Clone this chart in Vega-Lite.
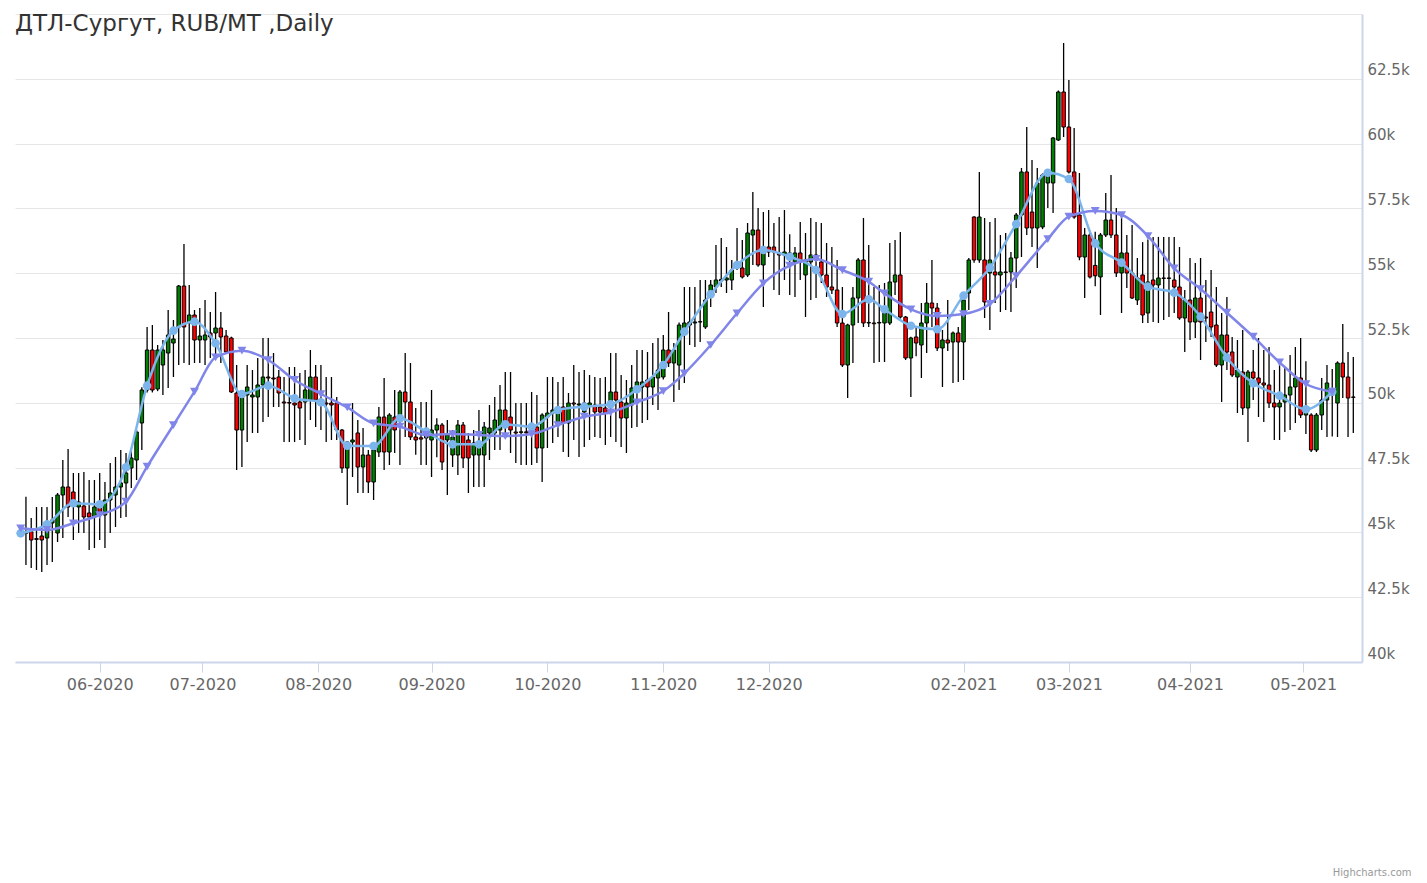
{
  "$schema": "https://vega.github.io/schema/vega-lite/v6.json",
  "width": 1347,
  "height": 648,
  "autosize": {"type": "none"},
  "padding": {"left": 15, "top": 14, "right": 65, "bottom": 221},
  "background": "#ffffff",
  "config": {"view": {"stroke": null}, "font": "DejaVu Sans"},
  "title": {"text": "ДТЛ-Сургут, RUB/MT ,Daily", "anchor": "start", "frame": "group", "orient": "top", "baseline": "alphabetic", "offset": 0, "dy": 40, "fontSize": 23, "fontWeight": "normal", "color": "#333333", "font": "DejaVu Sans"},
  "datasets": {
    "candles": [
      {"s":1,"o":44965,"h":46377,"l":43742,"c":45027},{"s":2,"o":45027,"h":45556,"l":43627,"c":44707},{"s":3,"o":44760,"h":45980,"l":43549,"c":44730},{"s":4,"o":44860,"h":45980,"l":43472,"c":44707},{"s":5,"o":44784,"h":45980,"l":43742,"c":45363},{"s":6,"o":45363,"h":46366,"l":43858,"c":45479},{"s":7,"o":44977,"h":46520,"l":44630,"c":46443},{"s":8,"o":46443,"h":47793,"l":44784,"c":46752},{"s":9,"o":46752,"h":48218,"l":45594,"c":45980},{"s":10,"o":46559,"h":47292,"l":44707,"c":46173},
      {"s":11,"o":45980,"h":47292,"l":44977,"c":46173},{"s":12,"o":46019,"h":47330,"l":44977,"c":45594},{"s":13,"o":45749,"h":47022,"l":44321,"c":45594},{"s":14,"o":45594,"h":47022,"l":44398,"c":45980},{"s":15,"o":45980,"h":47292,"l":44707,"c":45787},{"s":16,"o":45671,"h":46944,"l":44398,"c":46250},{"s":17,"o":46250,"h":47677,"l":44977,"c":46520},{"s":18,"o":46443,"h":47909,"l":45208,"c":46752},{"s":19,"o":46752,"h":48179,"l":45556,"c":46906},{"s":20,"o":46906,"h":48063,"l":45594,"c":47292},
      {"s":21,"o":47485,"h":48179,"l":46713,"c":47870},{"s":22,"o":47793,"h":48950,"l":47022,"c":48873},{"s":23,"o":49221,"h":50600,"l":48179,"c":50494},{"s":24,"o":50494,"h":52924,"l":50400,"c":52037},{"s":25,"o":52037,"h":53001,"l":50400,"c":50494},{"s":26,"o":50532,"h":52230,"l":50450,"c":52037},{"s":27,"o":51458,"h":52423,"l":50301,"c":52037},{"s":28,"o":51921,"h":53580,"l":50571,"c":52616},{"s":29,"o":52307,"h":53194,"l":50995,"c":52461},{"s":30,"o":52924,"h":54545,"l":51458,"c":54506},
      {"s":31,"o":54506,"h":56127,"l":51535,"c":52924},{"s":32,"o":53079,"h":54545,"l":51458,"c":53387},{"s":33,"o":53387,"h":53580,"l":51535,"c":52423},{"s":34,"o":52423,"h":53657,"l":51535,"c":52577},{"s":35,"o":52423,"h":53966,"l":51458,"c":52616},{"s":36,"o":52693,"h":53503,"l":51728,"c":52539},{"s":37,"o":52693,"h":54275,"l":51767,"c":52886},{"s":38,"o":52886,"h":53503,"l":51535,"c":52539},{"s":39,"o":52577,"h":52809,"l":51900,"c":51960},{"s":40,"o":52500,"h":52550,"l":50380,"c":50417},
      {"s":41,"o":50378,"h":51458,"l":47407,"c":48950},{"s":42,"o":48950,"h":50400,"l":47523,"c":50378},{"s":43,"o":50301,"h":51458,"l":48488,"c":50610},{"s":44,"o":50224,"h":51265,"l":48835,"c":50301},{"s":45,"o":50224,"h":51728,"l":48835,"c":50687},{"s":46,"o":50687,"h":52500,"l":49259,"c":50995},{"s":47,"o":50995,"h":52500,"l":49452,"c":50957},{"s":48,"o":50957,"h":51921,"l":49838,"c":50918},{"s":49,"o":50995,"h":51265,"l":49838,"c":50378},{"s":50,"o":50031,"h":50995,"l":48488,"c":49992},
      {"s":51,"o":50010,"h":51381,"l":48488,"c":49990},{"s":52,"o":49992,"h":51381,"l":48488,"c":49915},{"s":53,"o":50031,"h":51150,"l":48565,"c":49799},{"s":54,"o":50031,"h":51265,"l":48372,"c":50494},{"s":55,"o":50108,"h":52037,"l":49336,"c":50995},{"s":56,"o":50995,"h":51458,"l":49066,"c":50108},{"s":57,"o":50031,"h":51458,"l":48950,"c":49992},{"s":58,"o":49992,"h":50995,"l":48488,"c":49954},{"s":59,"o":49992,"h":50995,"l":48565,"c":49915},{"s":60,"o":49992,"h":50224,"l":48565,"c":48950},
      {"s":61,"o":48950,"h":48990,"l":47292,"c":47485},{"s":62,"o":47485,"h":48530,"l":46057,"c":48488},{"s":63,"o":48488,"h":49992,"l":47137,"c":48565},{"s":64,"o":48835,"h":49336,"l":46520,"c":47523},{"s":65,"o":47523,"h":49028,"l":46520,"c":47986},{"s":66,"o":47986,"h":48179,"l":46520,"c":46944},{"s":67,"o":46944,"h":48220,"l":46250,"c":48179},{"s":68,"o":48102,"h":49838,"l":47909,"c":49452},{"s":69,"o":49452,"h":50957,"l":47407,"c":48102},{"s":70,"o":48102,"h":49600,"l":47600,"c":49529},
      {"s":71,"o":49452,"h":50494,"l":48063,"c":48950},{"s":72,"o":49452,"h":50494,"l":47600,"c":50417},{"s":73,"o":50417,"h":51921,"l":48680,"c":50031},{"s":74,"o":50031,"h":51535,"l":48565,"c":48680},{"s":75,"o":48680,"h":49800,"l":48000,"c":48565},{"s":76,"o":48650,"h":50031,"l":47600,"c":48600},{"s":77,"o":48642,"h":50031,"l":47600,"c":48950},{"s":78,"o":48565,"h":50494,"l":47137,"c":48950},{"s":79,"o":48950,"h":49400,"l":47900,"c":49143},{"s":80,"o":49143,"h":49221,"l":47407,"c":47716},
      {"s":81,"o":48565,"h":49336,"l":46443,"c":48758},{"s":82,"o":47986,"h":48950,"l":47523,"c":48680},{"s":83,"o":47986,"h":49336,"l":47215,"c":49143},{"s":84,"o":49143,"h":49260,"l":47485,"c":47870},{"s":85,"o":48565,"h":48835,"l":46520,"c":47870},{"s":86,"o":47986,"h":48950,"l":46752,"c":48449},{"s":87,"o":47986,"h":49722,"l":46752,"c":48449},{"s":88,"o":47986,"h":49259,"l":46752,"c":49066},{"s":89,"o":48835,"h":49915,"l":47793,"c":49028},{"s":90,"o":48835,"h":50224,"l":48179,"c":49336},
      {"s":91,"o":48950,"h":50687,"l":48179,"c":49722},{"s":92,"o":49722,"h":51188,"l":48758,"c":49259},{"s":93,"o":49452,"h":51188,"l":48063,"c":48950},{"s":94,"o":48873,"h":49992,"l":47677,"c":48835},{"s":95,"o":48860,"h":49992,"l":47600,"c":48880},{"s":96,"o":48880,"h":49992,"l":47600,"c":48840},{"s":97,"o":48950,"h":50417,"l":47600,"c":48990},{"s":98,"o":49066,"h":50301,"l":47677,"c":48256},{"s":99,"o":48256,"h":49600,"l":46944,"c":49529},{"s":100,"o":49452,"h":50995,"l":48256,"c":49606},
      {"s":101,"o":49606,"h":50995,"l":48449,"c":49722},{"s":102,"o":49259,"h":50803,"l":48680,"c":49838},{"s":103,"o":49838,"h":50995,"l":48102,"c":49221},{"s":104,"o":49221,"h":50378,"l":47909,"c":49992},{"s":105,"o":49992,"h":51458,"l":48565,"c":49954},{"s":106,"o":49915,"h":51188,"l":47909,"c":49954},{"s":107,"o":49645,"h":51265,"l":48295,"c":49992},{"s":108,"o":49877,"h":51073,"l":48565,"c":49992},{"s":109,"o":49915,"h":50995,"l":48680,"c":49645},{"s":110,"o":49838,"h":50957,"l":48642,"c":49645},
      {"s":111,"o":49799,"h":50995,"l":48372,"c":49606},{"s":112,"o":50031,"h":51921,"l":48680,"c":50417},{"s":113,"o":50417,"h":51921,"l":48488,"c":50108},{"s":114,"o":50031,"h":51073,"l":48295,"c":49413},{"s":115,"o":49413,"h":50880,"l":48063,"c":49992},{"s":116,"o":49915,"h":51458,"l":49028,"c":50571},{"s":117,"o":50494,"h":52037,"l":49066,"c":50803},{"s":118,"o":50610,"h":52037,"l":49221,"c":50803},{"s":119,"o":50880,"h":51960,"l":49336,"c":50610},{"s":120,"o":50610,"h":52307,"l":49915,"c":50995},
      {"s":121,"o":50957,"h":52500,"l":49722,"c":51265},{"s":122,"o":50995,"h":52616,"l":50900,"c":52037},{"s":123,"o":52037,"h":53503,"l":51381,"c":51535},{"s":124,"o":51535,"h":52307,"l":50031,"c":52037},{"s":125,"o":51458,"h":53100,"l":50494,"c":53001},{"s":126,"o":52693,"h":54468,"l":50764,"c":53079},{"s":127,"o":53001,"h":54468,"l":52230,"c":53118},{"s":128,"o":53079,"h":54468,"l":52153,"c":53118},{"s":129,"o":53118,"h":54738,"l":52346,"c":53130},{"s":130,"o":52924,"h":54738,"l":52850,"c":53966},
      {"s":131,"o":54082,"h":54738,"l":53696,"c":54545},{"s":132,"o":54468,"h":56088,"l":54236,"c":54738},{"s":133,"o":54700,"h":56358,"l":54468,"c":54760},{"s":134,"o":54738,"h":56011,"l":54236,"c":54815},{"s":135,"o":54738,"h":55510,"l":54352,"c":55124},{"s":136,"o":55201,"h":56744,"l":55124,"c":55394},{"s":137,"o":55201,"h":56281,"l":54800,"c":54854},{"s":138,"o":54931,"h":56937,"l":54854,"c":56551},{"s":139,"o":56474,"h":58133,"l":55317,"c":56667},{"s":140,"o":56667,"h":57515,"l":55250,"c":55317},
      {"s":141,"o":55317,"h":57361,"l":53696,"c":56011},{"s":142,"o":56011,"h":57438,"l":55625,"c":55818},{"s":143,"o":56011,"h":56937,"l":54352,"c":55818},{"s":144,"o":55780,"h":57168,"l":54159,"c":55702},{"s":145,"o":55702,"h":57438,"l":54738,"c":55818},{"s":146,"o":55780,"h":56500,"l":54159,"c":55587},{"s":147,"o":55432,"h":56011,"l":54082,"c":55780},{"s":148,"o":55780,"h":56975,"l":54738,"c":55432},{"s":149,"o":54931,"h":56551,"l":53310,"c":55510},{"s":150,"o":55432,"h":57129,"l":53966,"c":55702},
      {"s":151,"o":55702,"h":56975,"l":54043,"c":55510},{"s":152,"o":55432,"h":56937,"l":54622,"c":54931},{"s":153,"o":54931,"h":56165,"l":54082,"c":54468},{"s":154,"o":54468,"h":56011,"l":54200,"c":54352},{"s":155,"o":54352,"h":55510,"l":52924,"c":53079},{"s":156,"o":53079,"h":54468,"l":51381,"c":51458},{"s":157,"o":51458,"h":53050,"l":50185,"c":53001},{"s":158,"o":53001,"h":54468,"l":51535,"c":54043},{"s":159,"o":54043,"h":55587,"l":53079,"c":55510},{"s":160,"o":55510,"h":57129,"l":52924,"c":53079},
      {"s":161,"o":53079,"h":56088,"l":52924,"c":53100},{"s":162,"o":53079,"h":54468,"l":51535,"c":53050},{"s":163,"o":53079,"h":54545,"l":51574,"c":53100},{"s":164,"o":53079,"h":54622,"l":51574,"c":53464},{"s":165,"o":53079,"h":56165,"l":53000,"c":54661},{"s":166,"o":54661,"h":56281,"l":54159,"c":54931},{"s":167,"o":54931,"h":56590,"l":53250,"c":53310},{"s":168,"o":53310,"h":53350,"l":51650,"c":51728},{"s":169,"o":51728,"h":52550,"l":50224,"c":52500},{"s":170,"o":52539,"h":52924,"l":51800,"c":52307},
      {"s":171,"o":52230,"h":53850,"l":50957,"c":53079},{"s":172,"o":53079,"h":54622,"l":51921,"c":53850},{"s":173,"o":53850,"h":55510,"l":52924,"c":53657},{"s":174,"o":53657,"h":53850,"l":52000,"c":52114},{"s":175,"o":52114,"h":52809,"l":50610,"c":52423},{"s":176,"o":52423,"h":53966,"l":52000,"c":52307},{"s":177,"o":52346,"h":52750,"l":50764,"c":52693},{"s":178,"o":52693,"h":52924,"l":50800,"c":52346},{"s":179,"o":52346,"h":54159,"l":50880,"c":53966},{"s":180,"o":54236,"h":55587,"l":53580,"c":55510},
      {"s":181,"o":57168,"h":57200,"l":55400,"c":55510},{"s":182,"o":55510,"h":58905,"l":55400,"c":57168},{"s":183,"o":55510,"h":57129,"l":53271,"c":53889},{"s":184,"o":55008,"h":56975,"l":52809,"c":55510},{"s":185,"o":55047,"h":57129,"l":53850,"c":54931},{"s":186,"o":54931,"h":56474,"l":53503,"c":55047},{"s":187,"o":55047,"h":56551,"l":53580,"c":55030},{"s":188,"o":55047,"h":55818,"l":53503,"c":55587},{"s":189,"o":55587,"h":57322,"l":54429,"c":57245},{"s":190,"o":57245,"h":59059,"l":55625,"c":58905},
      {"s":191,"o":58905,"h":60640,"l":56474,"c":56744},{"s":192,"o":57361,"h":59367,"l":56011,"c":56744},{"s":193,"o":56744,"h":59059,"l":55201,"c":58480},{"s":194,"o":56783,"h":58850,"l":56700,"c":58789},{"s":195,"o":58480,"h":58850,"l":57515,"c":58789},{"s":196,"o":58480,"h":60250,"l":57322,"c":60216},{"s":197,"o":60139,"h":62050,"l":60100,"c":61991},{"s":198,"o":61991,"h":63881,"l":60255,"c":60640},{"s":199,"o":60640,"h":62454,"l":58850,"c":58905},{"s":200,"o":58905,"h":60602,"l":57100,"c":57168},
      {"s":201,"o":57245,"h":58866,"l":55500,"c":55625},{"s":202,"o":55625,"h":56744,"l":54043,"c":56474},{"s":203,"o":56474,"h":56550,"l":54800,"c":54854},{"s":204,"o":55300,"h":56600,"l":54500,"c":54900},{"s":205,"o":54854,"h":56550,"l":53387,"c":56474},{"s":206,"o":56474,"h":58094,"l":56400,"c":57052},{"s":207,"o":57052,"h":58789,"l":56358,"c":56474},{"s":208,"o":56474,"h":57515,"l":54854,"c":55008},{"s":209,"o":55008,"h":57361,"l":53464,"c":55780},{"s":210,"o":55780,"h":56474,"l":54429,"c":55008},
      {"s":211,"o":55008,"h":56860,"l":54000,"c":54043},{"s":212,"o":53966,"h":55587,"l":53773,"c":54815},{"s":213,"o":54931,"h":56200,"l":53079,"c":53387},{"s":214,"o":53464,"h":56300,"l":53079,"c":54661},{"s":215,"o":54738,"h":56400,"l":53117,"c":54545},{"s":216,"o":54545,"h":56400,"l":53079,"c":54815},{"s":217,"o":54815,"h":56397,"l":53194,"c":54800},{"s":218,"o":54800,"h":56397,"l":53310,"c":54815},{"s":219,"o":54738,"h":56397,"l":53464,"c":54468},{"s":220,"o":54468,"h":56011,"l":53200,"c":53271},
      {"s":221,"o":53271,"h":54352,"l":51960,"c":53966},{"s":222,"o":53966,"h":55587,"l":52423,"c":53117},{"s":223,"o":53117,"h":55394,"l":52500,"c":54043},{"s":224,"o":54043,"h":55587,"l":51651,"c":53117},{"s":225,"o":53310,"h":54738,"l":52346,"c":53271},{"s":226,"o":53503,"h":55124,"l":52539,"c":52924},{"s":227,"o":53001,"h":54468,"l":51381,"c":51458},{"s":228,"o":51458,"h":53464,"l":50031,"c":52616},{"s":229,"o":52616,"h":54082,"l":51265,"c":51960},{"s":230,"o":51960,"h":52539,"l":50995,"c":51073},
      {"s":231,"o":50995,"h":52423,"l":49606,"c":51265},{"s":232,"o":51188,"h":52809,"l":49529,"c":49799},{"s":233,"o":49799,"h":51265,"l":48488,"c":51188},{"s":234,"o":51188,"h":52037,"l":50108,"c":50957},{"s":235,"o":50957,"h":52500,"l":49452,"c":50764},{"s":236,"o":50764,"h":52037,"l":49259,"c":50687},{"s":237,"o":50687,"h":52153,"l":49800,"c":49992},{"s":238,"o":49992,"h":51265,"l":48565,"c":49838},{"s":239,"o":49838,"h":51651,"l":48565,"c":49992},{"s":240,"o":50031,"h":51381,"l":48873,"c":50301},
      {"s":241,"o":50301,"h":51844,"l":48950,"c":50610},{"s":242,"o":50610,"h":52153,"l":49221,"c":50957},{"s":243,"o":50957,"h":52500,"l":49413,"c":49529},{"s":244,"o":49529,"h":51600,"l":48800,"c":49606},{"s":245,"o":49529,"h":49600,"l":48100,"c":48179},{"s":246,"o":48179,"h":49606,"l":48100,"c":49529},{"s":247,"o":49529,"h":50957,"l":48950,"c":50108},{"s":248,"o":50108,"h":51458,"l":48680,"c":50764},{"s":249,"o":50400,"h":51300,"l":48700,"c":50300},{"s":250,"o":49992,"h":51600,"l":48680,"c":51535},
      {"s":251,"o":51535,"h":53040,"l":50185,"c":50995},{"s":252,"o":50995,"h":51960,"l":48680,"c":50185},{"s":253,"o":50224,"h":51767,"l":48835,"c":50210}
    ],
    "fast": [
      {"s":0,"v":44965},{"s":5,"v":45312},{"s":10,"v":46123},{"s":15,"v":46084},{"s":20,"v":47512},{"s":24,"v":50660},{"s":29,"v":52782},{"s":33,"v":53129},{"s":37,"v":52296},{"s":42,"v":50339},{"s":47,"v":50660},{"s":52,"v":50174},{"s":57,"v":50019},{"s":62,"v":48345},{"s":67,"v":48333},{"s":72,"v":49402},{"s":77,"v":48885},{"s":82,"v":48399},{"s":87,"v":48399},{"s":92,"v":49170},{"s":97,"v":49078},{"s":102,"v":49722},{"s":107,"v":49850},{"s":112,"v":49942},{"s":117,"v":50521},{"s":122,"v":51458},{"s":126,"v":52743},{"s":131,"v":54186},{"s":136,"v":55316},{"s":141,"v":55895},{"s":146,"v":55636},{"s":151,"v":55123},{"s":156,"v":53426},{"s":161,"v":53993},{"s":164,"v":53607},{"s":169,"v":52974},{"s":174,"v":52836},{"s":179,"v":54132},{"s":184,"v":55212},{"s":189,"v":56898},{"s":195,"v":58877},{"s":199,"v":58634},{"s":204,"v":56153},{"s":209,"v":55405},{"s":214,"v":54479},{"s":219,"v":54248},{"s":224,"v":53322},{"s":229,"v":51740},{"s":234,"v":50752},{"s":239,"v":50274},{"s":244,"v":49749},{"s":249,"v":50428}
    ],
    "slow": [
      {"s":0,"v":45158},{"s":5,"v":45093},{"s":10,"v":45351},{"s":15,"v":45671},{"s":20,"v":46184},{"s":24,"v":47535},{"s":29,"v":49143},{"s":33,"v":50428},{"s":37,"v":51755},{"s":42,"v":52010},{"s":47,"v":51651},{"s":52,"v":50880},{"s":57,"v":50339},{"s":62,"v":49826},{"s":67,"v":49209},{"s":72,"v":49078},{"s":77,"v":48758},{"s":82,"v":48796},{"s":87,"v":48758},{"s":92,"v":48719},{"s":97,"v":48796},{"s":102,"v":49143},{"s":107,"v":49464},{"s":112,"v":49633},{"s":117,"v":50019},{"s":122,"v":50455},{"s":126,"v":51138},{"s":131,"v":52230},{"s":136,"v":53453},{"s":141,"v":54610},{"s":146,"v":55289},{"s":151,"v":55548},{"s":156,"v":55123},{"s":161,"v":54672},{"s":164,"v":54224},{"s":169,"v":53607},{"s":174,"v":53349},{"s":179,"v":53426},{"s":184,"v":53812},{"s":189,"v":54892},{"s":195,"v":56319},{"s":199,"v":57180},{"s":204,"v":57400},{"s":209,"v":57245},{"s":214,"v":56435},{"s":219,"v":55189},{"s":224,"v":54390},{"s":229,"v":53476},{"s":234,"v":52550},{"s":239,"v":51562},{"s":244,"v":50725},{"s":249,"v":50428}
    ]
  },
  "encoding": {
    "x": {"field": "s", "type": "quantitative",
      "scale": {"domain": [-0.13, 253.7], "nice": false, "zero": false},
      "axis": {"values": [15, 34.5, 56.5, 78, 100, 122, 142, 179, 199, 222, 243.5],
        "labelExpr": "datum.value == 15 ? '06-2020' : datum.value == 34.5 ? '07-2020' : datum.value == 56.5 ? '08-2020' : datum.value == 78 ? '09-2020' : datum.value == 100 ? '10-2020' : datum.value == 122 ? '11-2020' : datum.value == 142 ? '12-2020' : datum.value == 179 ? '02-2021' : datum.value == 199 ? '03-2021' : datum.value == 222 ? '04-2021' : '05-2021'",
        "grid": false, "domainColor": "#ccd6eb", "domainWidth": 2, "tickColor": "#ccd6eb", "tickSize": 10, "tickWidth": 1,
        "labelColor": "#666666", "labelFontSize": 16, "labelFont": "DejaVu Sans", "labelPadding": 4, "labelFlush": false, "labelOverlap": false,
        "title": "Highcharts.com", "titleX": 1396, "titleY": 213, "titleAlign": "right", "titleAnchor": "end", "titleBaseline": "alphabetic", "titleFontSize": 10, "titleColor": "#999999", "titleFontWeight": "normal", "titleFont": "DejaVu Sans"}
    }
  },
  "layer": [
    {
      "data": {"name": "candles"},
      "mark": {"type": "rule", "color": "#000000", "strokeWidth": 1.3},
      "encoding": {
        "y": {"field": "l", "type": "quantitative",
          "scale": {"domain": [40000, 65000], "nice": false, "zero": false},
          "axis": {"orient": "right", "values": [40000, 42500, 45000, 47500, 50000, 52500, 55000, 57500, 60000, 62500, 65000],
            "labelExpr": "datum.value == 65000 ? '' : (datum.value / 1000) + 'k'",
            "grid": true, "gridColor": "#e6e6e6", "gridWidth": 1, "ticks": false, "domainColor": "#ccd6eb", "domainWidth": 2,
            "labelColor": "#666666", "labelFontSize": 15, "labelFont": "DejaVu Sans", "labelAlign": "left", "labelBaseline": "bottom", "labelPadding": 5, "labelOffset": -1, "title": null}},
        "y2": {"field": "h"}
      }
    },
    {
      "data": {"name": "candles"},
      "mark": {"type": "bar", "size": 3.5, "stroke": "#000000", "strokeWidth": 1},
      "encoding": {
        "y": {"field": "o", "type": "quantitative"},
        "y2": {"field": "c"},
        "fill": {"condition": {"test": "datum.c >= datum.o", "value": "#008000"}, "value": "#ff0000"}
      }
    },
    {
      "data": {"name": "fast"},
      "mark": {"type": "line", "color": "#7cb5ec", "strokeWidth": 2.5, "interpolate": "monotone",
        "point": {"shape": "circle", "size": 75, "filled": true, "color": "#7cb5ec"}},
      "encoding": {"y": {"field": "v", "type": "quantitative"}}
    },
    {
      "data": {"name": "slow"},
      "mark": {"type": "line", "color": "#8085e9", "strokeWidth": 2.5, "interpolate": "monotone",
        "point": {"shape": "triangle-down", "size": 80, "filled": true, "color": "#8085e9"}},
      "encoding": {"y": {"field": "v", "type": "quantitative"}}
    }
  ]
}
